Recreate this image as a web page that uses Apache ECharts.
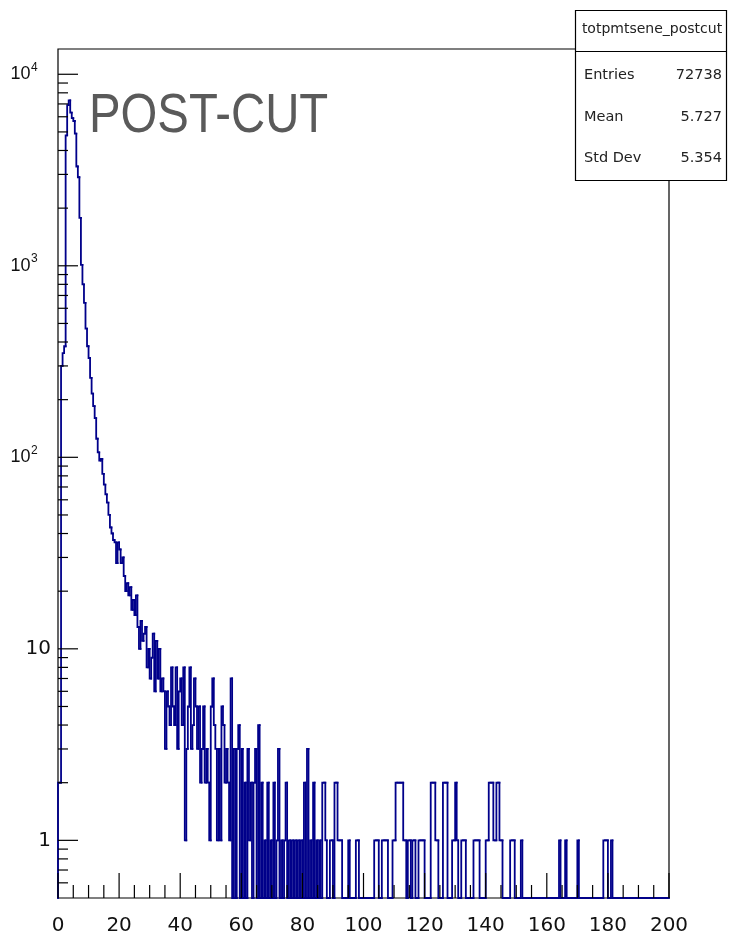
<!DOCTYPE html>
<html><head><meta charset="utf-8">
<script src="https://cdn.jsdelivr.net/npm/echarts@6.0.0/dist/echarts.min.js"></script>
<style>html,body{margin:0;padding:0;background:#fff;}#c{width:729px;height:937px;}</style>
</head><body><div id="c"></div>
<script>
// ---- histogram definition: 400 bins over [0,200] ----
const xRange = [0, 200];
const counts = [
  2, 2, 300, 350, 380,   4800, 6900, 7300, 6300, 5900,
  5700, 4900, 3300, 2900, 1780,   1010, 800, 640, 470, 380,
  330, 260, 215, 185, 160,   125, 106, 96, 98, 82,
  72, 64, 58, 50, 43,   40, 37, 36, 28, 36,
  33, 28, 30, 24, 20,   22, 19, 21, 16, 18,
  15, 19, 13, 10, 14,   11, 12, 13, 8, 10,
  7, 9, 12, 6, 11,   7, 10, 6, 7, 6,
  3, 6, 5, 4, 8,   5, 4, 8, 3, 6,
  7, 4, 8, 1, 3,   5, 8, 3, 4, 7,
  5, 3, 5, 2, 3,   5, 2, 3, 2, 1,
  5, 7, 4, 3, 1,   3, 1, 5, 4, 2,
  3, 2, 1, 7, 0,   3, 0, 3, 4, 0,
  3, 0, 2, 0, 3,   1, 2, 0, 2, 3,
  0, 4, 0, 2, 0,   1, 0, 2, 0, 1,
  0, 2, 0, 1, 3,   0, 1, 0, 1, 2,
  0, 1, 0, 1, 0,   1, 0, 1, 0, 1,
  0, 2, 0, 3, 0,   1, 0, 2, 0, 1,
  0, 1, 0, 2, 2,   1, 0, 0, 1, 1,
  0, 2, 2, 1, 1,   1, 0, 0, 0, 0,
  1, 0, 0, 0, 0,   1, 1, 0, 0, 0,
  0, 0, 0, 0, 0,   0, 0, 1, 1, 1,
  0, 0, 1, 1, 1,   1, 0, 0, 0, 1,
  1, 2, 2, 2, 2,   2, 1, 1, 0, 1,
  1, 0, 1, 1, 0,   0, 1, 1, 1, 1,
  0, 0, 0, 0, 2,   2, 2, 1, 1, 0,
  0, 0, 2, 2, 2,   0, 0, 0, 1, 1,
  2, 1, 0, 0, 1,   1, 1, 0, 0, 0,
  0, 0, 1, 1, 1,   1, 0, 0, 0, 0,
  1, 1, 2, 2, 2,   1, 1, 2, 2, 1,
  1, 0, 0, 0, 0,   0, 1, 1, 1, 0,
  0, 0, 0, 1, 0,   0, 0, 0, 0, 0,
  0, 0, 0, 0, 0,   0, 0, 0, 0, 0,
  0, 0, 0, 0, 0,   0, 0, 0, 1, 0,
  0, 0, 1, 0, 0,   0, 0, 0, 0, 0,
  1, 0, 0, 0, 0,   0, 0, 0, 0, 0,
  0, 0, 0, 0, 0,   0, 0, 1, 1, 1,
  0, 0, 1, 0, 0,   0, 0, 0, 0, 0,
  0, 0, 0, 0, 0,   0, 0, 0, 0, 0,
  0, 0, 0, 0, 0,   0, 0, 0, 0, 0,
  0, 0, 0, 0, 0,   0, 0, 0, 0, 0
];
const xMajorTicks = [0, 20, 40, 60, 80, 100, 120, 140, 160, 180, 200];
const xMinorTicks = [5, 10, 15, 25, 30, 35, 45, 50, 55, 65, 70, 75, 85, 90, 95, 105, 110, 115,
  125, 130, 135, 145, 150, 155, 165, 170, 175, 185, 190, 195];
const yRange = [0.5, 13550];
const yMajorTicks = [1, 10, 100, 1000, 10000];
const yMajorBase = ['1', '10', '10', '10', '10'];
const yMajorExp = ['', '', '2', '3', '4'];
const yMinorTicks = [0.6, 0.7, 0.8, 0.9, 2, 3, 4, 5, 6, 7, 8, 9, 20, 30, 40, 50, 60, 70, 80, 90,
  200, 300, 400, 500, 600, 700, 800, 900, 2000, 3000, 4000, 5000, 6000, 7000, 8000, 9000];
const statsTitle = 'totpmtsene_postcut';
const statsNames = ['Entries', 'Mean', 'Std Dev'];
const statsValues = ['72738', '5.727', '5.354'];
const annotation = 'POST-CUT';

// ---- build ----
const nBins = counts.length;
const bw = (xRange[1] - xRange[0]) / nBins;
const binData = counts.map((c, i) => [xRange[0] + i * bw, xRange[0] + (i + 1) * bw, c]);
const floorV = v => Math.max(v, yRange[0]);
const LINE = '#00008a';
const TXT = '#111';

function tickSeries(name, values, isX, len) {
  return {
    type: 'custom', name, coordinateSystem: 'cartesian2d', silent: true, z: 4, clip: false,
    data: values.map(v => isX ? [v, yRange[0]] : [xRange[0], v]),
    renderItem: (params, api) => {
      const p = api.coord([api.value(0), api.value(1)]);
      const shape = isX ? {x1: p[0], y1: p[1], x2: p[0], y2: p[1] - len} : {x1: p[0], y1: p[1], x2: p[0] + len, y2: p[1]};
      return {type: 'line', shape, style: {stroke: '#000', lineWidth: 1.2}};
    }
  };
}

const chart = echarts.init(document.getElementById('c'), null, {renderer: 'canvas'});
const option = {
  animation: false,
  backgroundColor: '#fff',
  grid: {left: 58, right: 60, top: 49, bottom: 39, show: true, borderColor: '#000', borderWidth: 1.2, backgroundColor: 'transparent'},
  xAxis: {
    type: 'value', min: xRange[0], max: xRange[1], interval: 20,
    axisLine: {show: false}, splitLine: {show: false}, axisTick: {show: false}, minorTick: {show: false},
    axisLabel: {show: true, margin: 18, fontSize: 20, lineHeight: 20, fontFamily: 'DejaVu Sans', color: TXT,
      formatter: v => (xMajorTicks.indexOf(v) >= 0 ? String(v) : '')}
  },
  yAxis: {
    type: 'log', logBase: 10, min: yRange[0], max: yRange[1],
    axisLine: {show: false}, axisTick: {show: false}, axisLabel: {show: false},
    splitLine: {show: false}, minorTick: {show: false}, minorSplitLine: {show: false}
  },
  series: [
    {
      type: 'custom', name: 'hist', coordinateSystem: 'cartesian2d', silent: true, z: 3,
      encode: {x: [0, 1], y: 2},
      data: binData,
      renderItem: (params, api) => {
        const i = params.dataIndex;
        const x0 = api.value(0), x1 = api.value(1), c = api.value(2);
        const prev = i > 0 ? counts[i - 1] : 0;
        const pts = [api.coord([x0, floorV(prev)]), api.coord([x0, floorV(c)]), api.coord([x1, floorV(c)])];
        if (i === nBins - 1) pts.push(api.coord([x1, yRange[0]]));
        return {type: 'polyline', shape: {points: pts}, style: {stroke: LINE, lineWidth: 1.8, fill: null, lineCap: 'square'}};
      }
    },
    tickSeries('xMajor', xMajorTicks, true, 25),
    tickSeries('xMinor', xMinorTicks, true, 13),
    tickSeries('yMinor', yMinorTicks, false, 10),
    {
      type: 'custom', name: 'yMajor', coordinateSystem: 'cartesian2d', silent: true, z: 4, clip: false,
      data: yMajorTicks.map(v => [xRange[0], v]),
      renderItem: (params, api) => {
        const i = params.dataIndex;
        const p = api.coord([api.value(0), api.value(1)]);
        const children = [{type: 'line', shape: {x1: p[0], y1: p[1], x2: p[0] + 20, y2: p[1]}, style: {stroke: '#000', lineWidth: 1.2}}];
        if (yMajorExp[i]) {
          children.push({type: 'text', x: p[0] - 27.5, y: p[1], style: {text: yMajorBase[i], font: '18px "Liberation Sans"', fill: TXT, align: 'right', verticalAlign: 'middle'}});
          children.push({type: 'text', x: p[0] - 27, y: p[1] - 7, style: {text: yMajorExp[i], font: '12px "Liberation Sans"', fill: TXT, align: 'left', verticalAlign: 'middle'}});
        } else {
          children.push({type: 'text', x: p[0] - 7, y: p[1], style: {text: yMajorBase[i], font: '20px "DejaVu Sans"', fill: TXT, align: 'right', verticalAlign: 'middle'}});
        }
        return {type: 'group', children};
      }
    }
  ],
  graphic: [
    {type: 'text', x: 89, y: 117, scaleX: 0.845, z: 10,
      style: {text: annotation, font: '56px "Liberation Sans"', fill: '#5a5a5a', align: 'left', verticalAlign: 'middle'}},
    {type: 'group', z: 20, children: [
      {type: 'rect', shape: {x: 575.5, y: 10.5, width: 151, height: 170}, style: {fill: '#fff', stroke: '#000', lineWidth: 1.2}},
      {type: 'line', shape: {x1: 575.5, y1: 51.5, x2: 726.5, y2: 51.5}, style: {stroke: '#000', lineWidth: 1.2}},
      {type: 'text', x: 652, y: 29, style: {text: statsTitle, font: '14px "DejaVu Sans"', fill: '#222', align: 'center', verticalAlign: 'middle'}},
      {type: 'text', x: 584, y: 75, style: {text: statsNames[0], font: '14.5px "DejaVu Sans"', fill: '#222', align: 'left', verticalAlign: 'middle'}},
      {type: 'text', x: 722, y: 75, style: {text: statsValues[0], font: '14.5px "DejaVu Sans"', fill: '#222', align: 'right', verticalAlign: 'middle'}},
      {type: 'text', x: 584, y: 117, style: {text: statsNames[1], font: '14.5px "DejaVu Sans"', fill: '#222', align: 'left', verticalAlign: 'middle'}},
      {type: 'text', x: 722, y: 117, style: {text: statsValues[1], font: '14.5px "DejaVu Sans"', fill: '#222', align: 'right', verticalAlign: 'middle'}},
      {type: 'text', x: 584, y: 158, style: {text: statsNames[2], font: '14.5px "DejaVu Sans"', fill: '#222', align: 'left', verticalAlign: 'middle'}},
      {type: 'text', x: 722, y: 158, style: {text: statsValues[2], font: '14.5px "DejaVu Sans"', fill: '#222', align: 'right', verticalAlign: 'middle'}}
    ]}
  ]
};
chart.setOption(option);
</script>
</body></html>
